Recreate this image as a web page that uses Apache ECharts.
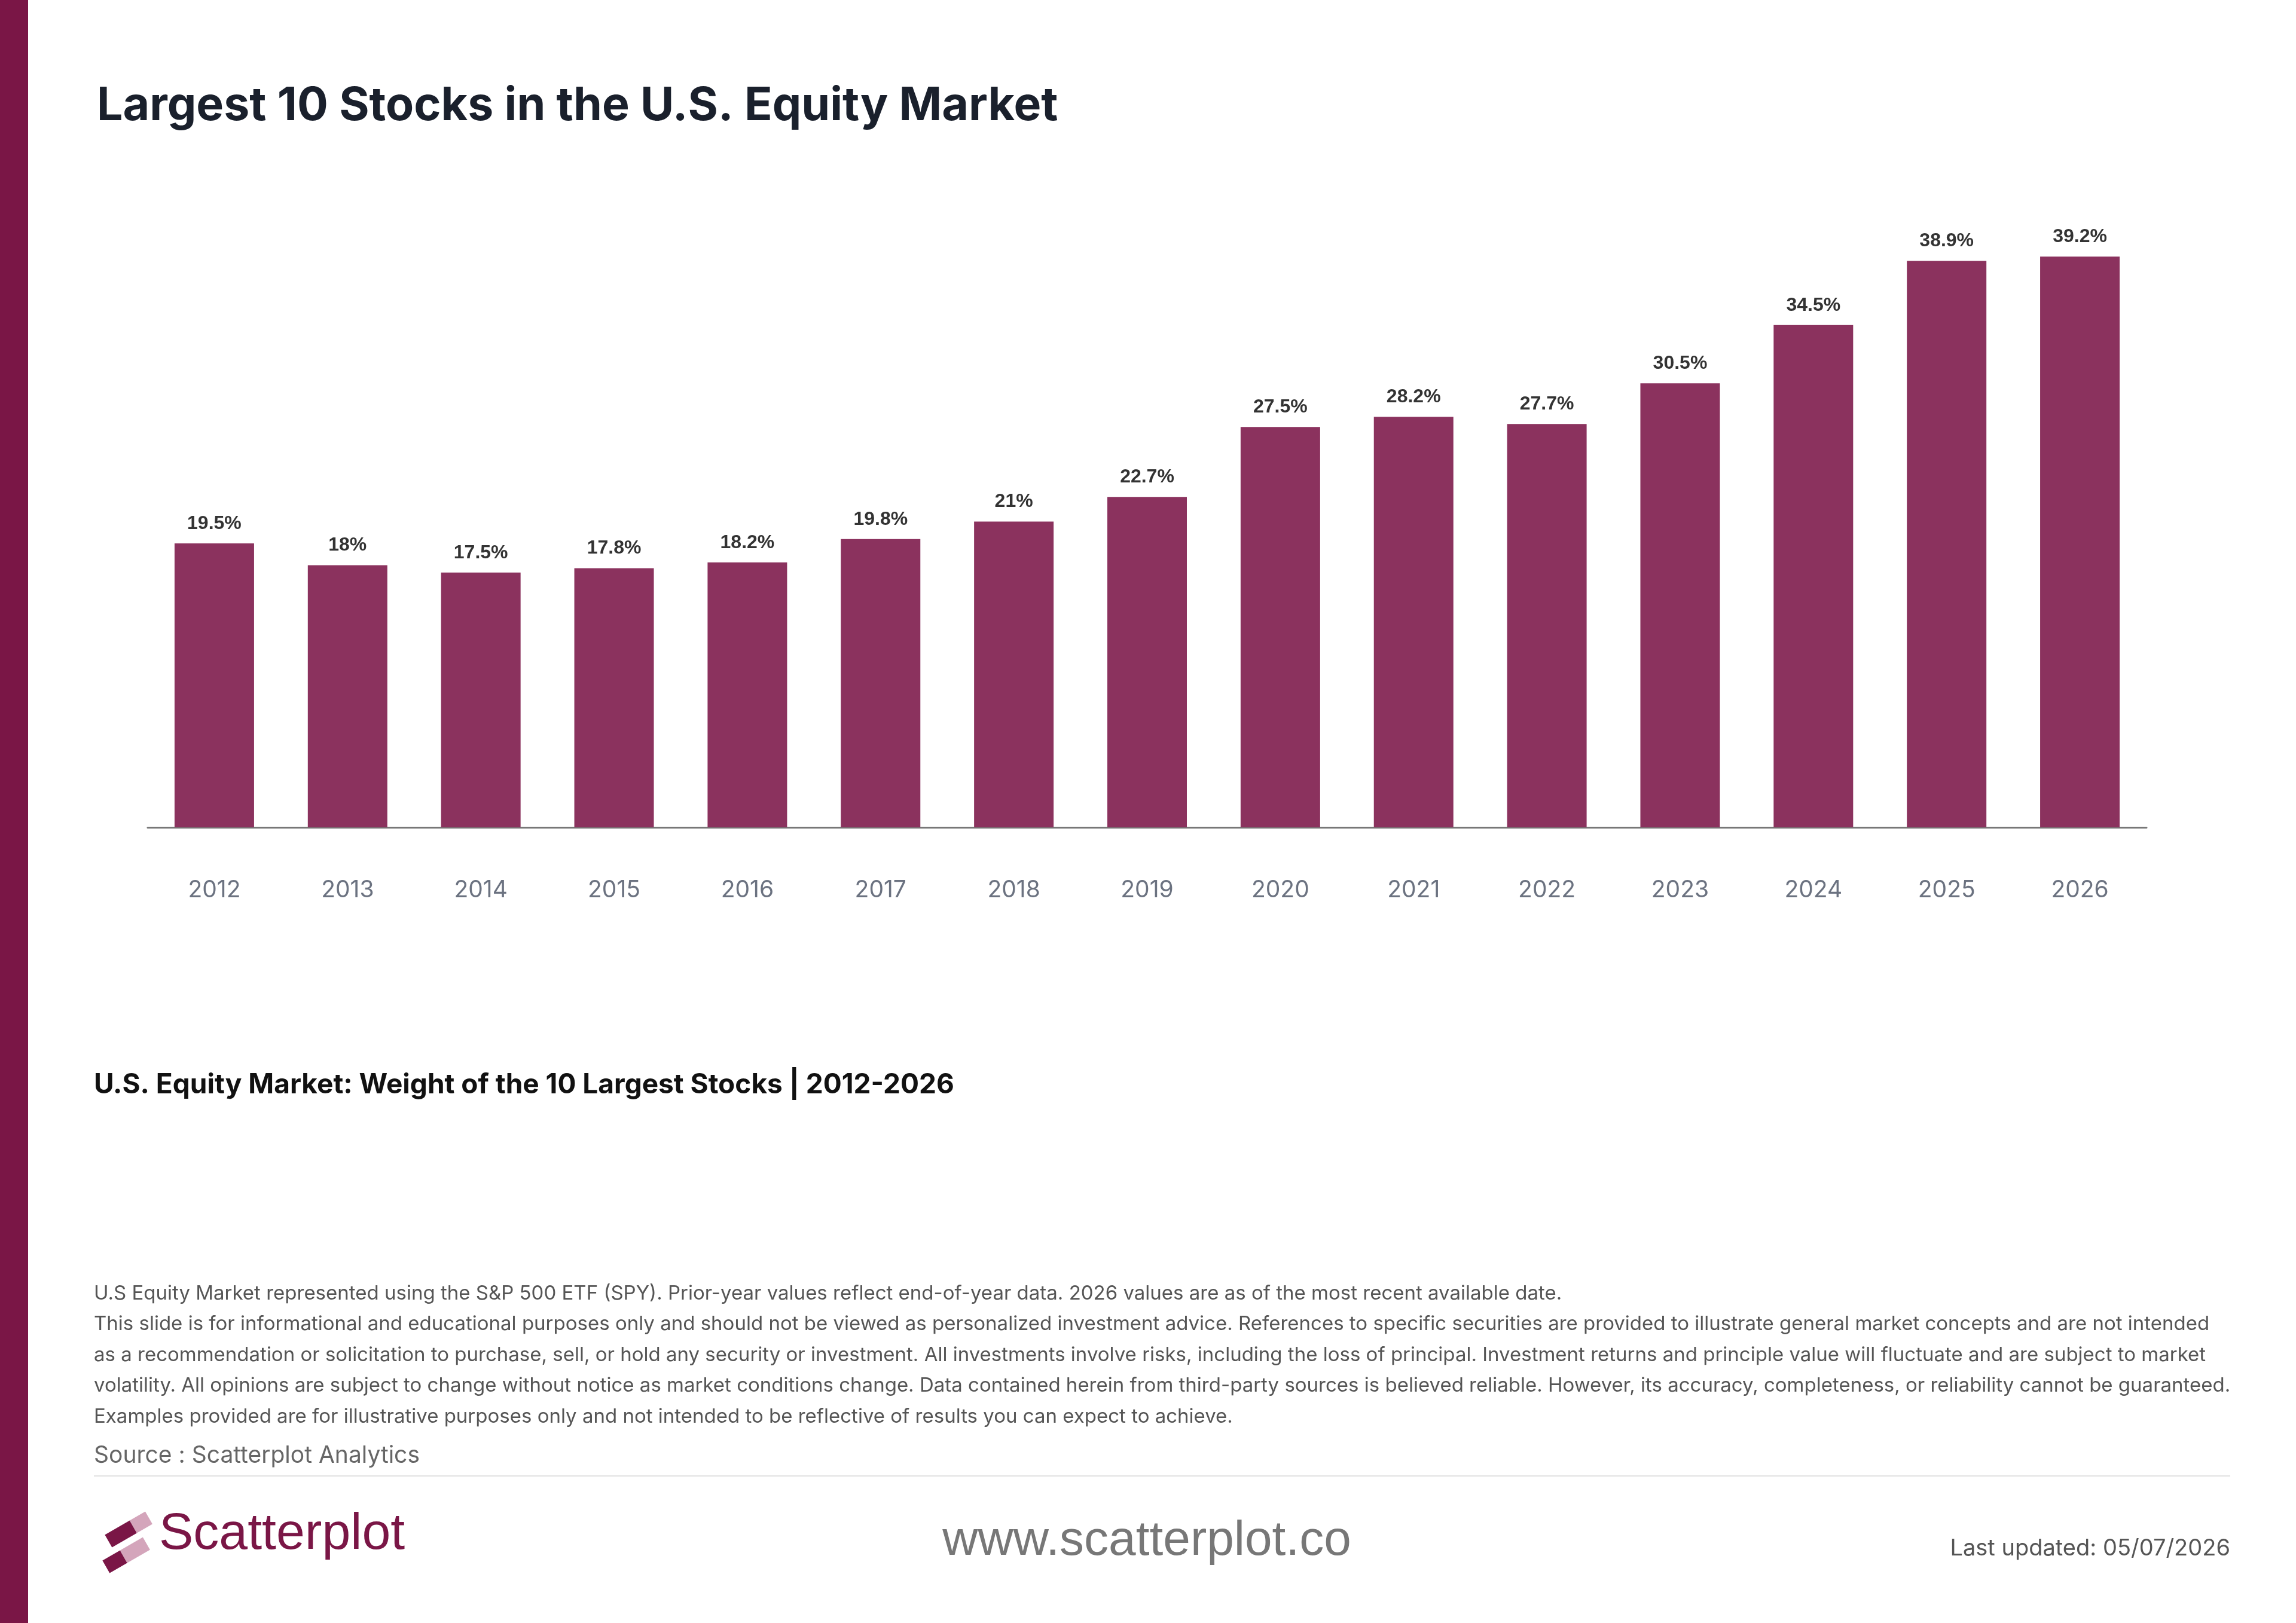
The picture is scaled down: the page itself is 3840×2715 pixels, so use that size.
<!DOCTYPE html>
<html>
<head>
<meta charset="utf-8">
<script src="https://cdn.jsdelivr.net/npm/echarts@6/dist/echarts.min.js"></script>
<style>
  html, body { margin: 0; padding: 0; background: #fff; }
  #main { width: 3840px; height: 2715px; }
</style>
</head>
<body>
<div id="main"></div>
<script>
var years = ['2012', '2013', '2014', '2015', '2016', '2017', '2018', '2019', '2020', '2021', '2022', '2023', '2024', '2025', '2026'];
var weights = [19.5, 18, 17.5, 17.8, 18.2, 19.8, 21, 22.7, 27.5, 28.2, 27.7, 30.5, 34.5, 38.9, 39.2];

var noteLines = [
	'U.S Equity Market represented using the S&P 500 ETF (SPY). Prior-year values reflect end-of-year data. 2026 values are as of the most recent available date.',
	'This slide is for informational and educational purposes only and should not be viewed as personalized investment advice. References to specific securities are provided to illustrate general market concepts and are not intended',
	'as a recommendation or solicitation to purchase, sell, or hold any security or investment. All investments involve risks, including the loss of principal. Investment returns and principle value will fluctuate and are subject to market',
	'volatility. All opinions are subject to change without notice as market conditions change. Data contained herein from third-party sources is believed reliable. However, its accuracy, completeness, or reliability cannot be guaranteed.',
	'Examples provided are for illustrative purposes only and not intended to be reflective of results you can expect to achieve.'
];

var myChart = echarts.init(document.getElementById('main'));
var font = 'Inter, "Noto Sans", sans-serif';
var brand = '#7a1646';

var option = {
	backgroundColor: '#fff',
	animation: false,
	title: {
		text: 'Largest 10 Stocks in the U.S. Equity Market',
		left: 157,
		top: 134,
		textStyle: { fontFamily: font, fontSize: 77, fontWeight: 'bold', color: '#1a202c' }
	},
	grid: { left: 247, right: 250, top: 288, height: 1096, containLabel: false },
	xAxis: {
		type: 'category',
		data: years,
		axisLine: { lineStyle: { color: '#777', width: 3 } },
		axisTick: { show: false },
		axisLabel: { margin: 86, fontFamily: font, fontSize: 39, color: '#6b7280' }
	},
	yAxis: {
		type: 'value',
		min: 0,
		max: 45,
		show: false,
		splitLine: { show: false }
	},
	series: [{
		type: 'bar',
		data: weights,
		barWidth: 133,
		itemStyle: { color: '#8b325e' },
		label: {
			show: true,
			position: 'top',
			distance: 17,
			formatter: '{c}%',
			fontFamily: 'Liberation Sans, Arial, sans-serif',
			fontWeight: 'bold',
			fontSize: 32,
			color: '#333'
		}
	}],
	graphic: [
		{ type: 'rect', left: 0, top: 0, shape: { width: 47, height: 2715 }, style: { fill: brand } },
		{ type: 'text', left: 157, top: 1792, style: { text: 'U.S. Equity Market: Weight of the 10 Largest Stocks | 2012-2026', font: 'bold 46px ' + font, fill: '#111' } },
		{ type: 'text', left: 157, top: 2138, style: { text: noteLines.join('\n'), font: '33px ' + font, fill: '#555', lineHeight: 51.5 } },
		{ type: 'text', left: 157, top: 2416, style: { text: 'Source : Scatterplot Analytics', font: '39px ' + font, fill: '#666' } },
		{ type: 'rect', left: 157, top: 2468, shape: { width: 3573, height: 2 }, style: { fill: '#e2e2e2' } },
		{
			type: 'group', x: 216, y: 2558, rotation: Math.PI / 6,
			children: [
				{ type: 'rect', shape: { x: -40, y: -12, width: 48, height: 24 }, style: { fill: brand } },
				{ type: 'rect', shape: { x: 8, y: -12, width: 30, height: 24 }, style: { fill: '#d4a5bb' } }
			]
		},
		{
			type: 'group', x: 212, y: 2601, rotation: Math.PI / 6,
			children: [
				{ type: 'rect', shape: { x: -40, y: -12, width: 34, height: 24 }, style: { fill: brand } },
				{ type: 'rect', shape: { x: -6, y: -12, width: 44, height: 24 }, style: { fill: '#d4a5bb' } }
			]
		},
		{ type: 'text', left: 266, top: 2524, style: { text: 'Scatterplot', font: '86px "Liberation Sans", Arial, sans-serif', fill: brand } },
		{ type: 'text', x: 1918, y: 2578, style: { text: 'www.scatterplot.co', font: '82px "Liberation Sans", Arial, sans-serif', fill: '#777', align: 'center', verticalAlign: 'middle' } },
		{ type: 'text', x: 3730, y: 2591, style: { text: 'Last updated: 05/07/2026', font: '38px ' + font, fill: '#555', align: 'right', verticalAlign: 'middle' } }
	]
};

myChart.setOption(option);
</script>
</body>
</html>
